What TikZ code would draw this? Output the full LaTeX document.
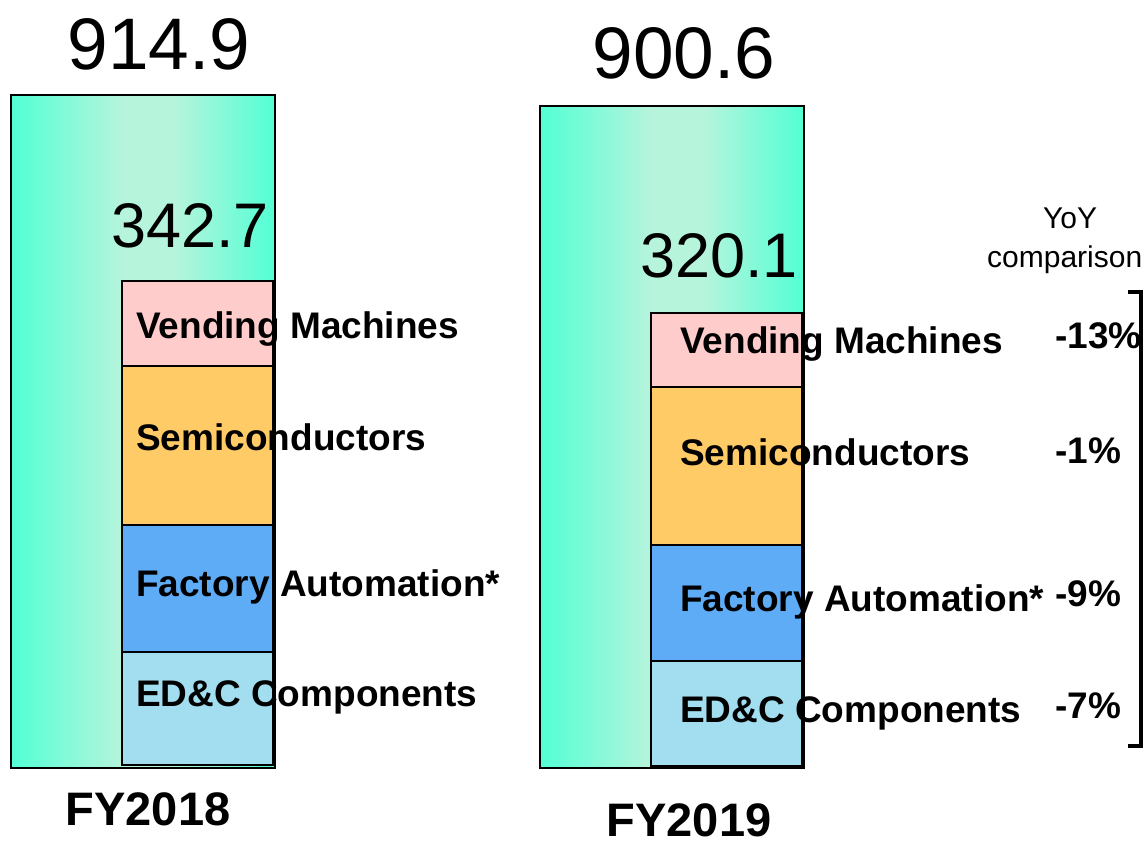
\documentclass[tikz,border=0pt]{standalone}
\usepackage{fontspec}
\setmainfont{Liberation Sans}
\definecolor{tq}{RGB}{82,255,212}
\definecolor{lt}{RGB}{182,244,220}
\definecolor{vmc}{RGB}{255,204,204}
\definecolor{smc}{RGB}{255,203,102}
\definecolor{fac}{RGB}{94,172,246}
\definecolor{edc}{RGB}{163,221,240}
\pgfdeclarehorizontalshading{barshade}{100bp}{color(0bp)=(tq); color(25bp)=(tq); color(46bp)=(lt); color(56bp)=(lt); color(75bp)=(tq); color(100bp)=(tq)}
\tikzset{
  barbox/.style={draw=black, line width=2.4pt, shading=barshade, anchor=north west, inner sep=0pt, outer sep=0pt},
  seg/.style={draw=black, line width=2pt, anchor=north west, inner sep=0pt, outer sep=0pt, minimum width=151pt},
  big/.style={inner sep=0pt, anchor=base, font=\fontsize{73}{80}\selectfont},
  mid/.style={inner sep=0pt, anchor=base, font=\fontsize{63}{72}\selectfont},
  lab/.style={inner sep=0pt, anchor=base west, font=\fontsize{37}{40}\selectfont\bfseries},
  yr/.style={inner sep=0pt, anchor=base, font=\fontsize{47}{52}\selectfont\bfseries},
  small/.style={inner sep=0pt, font=\fontsize{30}{33}\selectfont}
}
\begin{document}
\begin{tikzpicture}[x=1pt,y=-1pt]
\useasboundingbox (0,0) rectangle (1145,843);
\clip (0,0) rectangle (1145,843);
% FY2018
\node[barbox, minimum width=264pt, minimum height=673pt] (bar1) at (11,95) {};
\node[seg, fill=vmc, minimum height=85pt]  (vm1) at (122,281) {};
\node[seg, fill=smc, minimum height=159pt] (sm1) at (122,366) {};
\node[seg, fill=fac, minimum height=127pt] (fa1) at (122,525) {};
\node[seg, fill=edc, minimum height=113pt] (ed1) at (122,652) {};
\node[big] (tot1) at (159,70) {914.9};
\node[mid] (sub1) at (190,247) {342.7};
\node[lab] (lvm1) at (136,338) {Vending Machines};
\node[lab] (lsm1) at (136,450) {Semiconductors};
\node[lab] (lfa1) at (136,596) {Factory Automation*};
\node[lab] (led1) at (136,706) {ED\&C Components};
\node[yr] (y1) at (148,825) {FY2018};
% FY2019
\node[barbox, minimum width=264pt, minimum height=662pt] (bar2) at (540,106) {};
\node[seg, fill=vmc, minimum height=74pt]  (vm2) at (651,313) {};
\node[seg, fill=smc, minimum height=158pt] (sm2) at (651,387) {};
\node[seg, fill=fac, minimum height=116pt] (fa2) at (651,545) {};
\node[seg, fill=edc, minimum height=105pt] (ed2) at (651,661) {};
\node[big] (tot2) at (684,78) {900.6};
\node[mid] (sub2) at (719,277) {320.1};
\node[lab] (lvm2) at (680,353) {Vending Machines};
\node[lab] (lsm2) at (680,465) {Semiconductors};
\node[lab] (lfa2) at (680,611) {Factory Automation*};
\node[lab] (led2) at (680,722) {ED\&C Components};
\node[yr] (y2) at (689,836) {FY2019};
% YoY
\node[small, anchor=base] (yoy) at (1070,228) {YoY};
\node[small, anchor=base west] (cmp) at (987,267) {comparison};
\node[lab] (p1) at (1055,348) {-13\%};
\node[lab] (p2) at (1055,463) {-1\%};
\node[lab] (p3) at (1055,606) {-9\%};
\node[lab] (p4) at (1055,718) {-7\%};
\coordinate (bt) at (1128,292);
\coordinate (bb) at (1128,746);
\draw[line width=3.5pt] (bt) -- ++(13,0) |- (bb);
\end{tikzpicture}
\end{document}
